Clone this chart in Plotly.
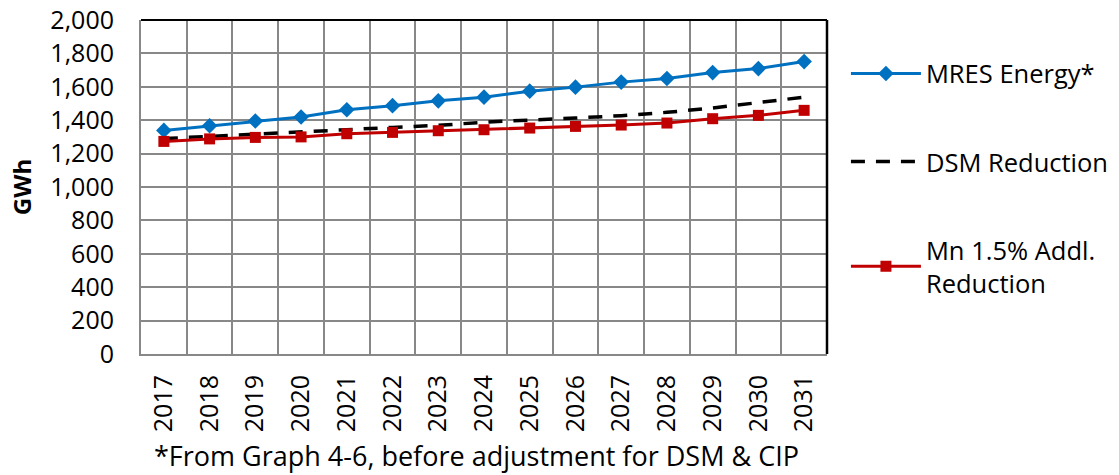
import plotly.graph_objects as go

years = [str(y) for y in range(2017, 2032)]
mres_energy = [1339, 1367, 1395, 1419, 1463, 1487, 1516, 1538, 1574, 1598, 1628, 1650, 1685, 1709, 1751]
dsm_reduction = [1290, 1303, 1313, 1325, 1343, 1357, 1369, 1388, 1403, 1413, 1427, 1447, 1473, 1503, 1538]
mn_addl_reduction = [1273, 1288, 1297, 1300, 1319, 1327, 1337, 1343, 1353, 1363, 1371, 1383, 1409, 1429, 1459]

y_ticks = list(range(0, 2001, 200))
y_tick_text = [f"{v:,}" for v in y_ticks]

FONT = "Open Sans"
GRID = "#888888"

fig = go.Figure()
fig.add_trace(go.Scatter(
    x=years, y=mres_energy, name="MRES Energy*", legendgroup="a",
    mode="lines+markers",
    line=dict(color="#0070C0", width=3),
    marker=dict(symbol="diamond", size=12, color="#0070C0"),
))
fig.add_trace(go.Scatter(
    x=years, y=dsm_reduction, name="DSM Reduction", legendgroup="b",
    mode="lines",
    line=dict(color="black", width=3.5, dash="14px,11px"),
))
fig.add_trace(go.Scatter(
    x=years, y=mn_addl_reduction, name="Mn 1.5% Addl.<br>Reduction", legendgroup="c",
    mode="lines+markers",
    line=dict(color="#C00000", width=3),
    marker=dict(symbol="square", size=11, color="#C00000"),
))

fig.update_layout(
    width=1119, height=475,
    margin=dict(l=141, r=292, t=20, b=121, autoexpand=False),
    paper_bgcolor="white", plot_bgcolor="white",
    font=dict(family=FONT, size=25, color="black"),
    showlegend=True,
    legend=dict(
        x=1.0276, y=0.909, xanchor="left", yanchor="top",
        font=dict(family=FONT, size=25.5),
        tracegroupgap=52, itemwidth=70,
        bgcolor="rgba(0,0,0,0)",
    ),
    xaxis=dict(
        type="category", tickson="boundaries",
        showgrid=True, gridcolor=GRID, gridwidth=2,
        showline=True, linecolor=GRID, linewidth=2,
        ticks="", tickangle=-90, ticklabelstandoff=9,
        tickfont=dict(size=25),
        range=[-0.5, 14.5],
    ),
    yaxis=dict(
        range=[0, 2000], tickvals=y_ticks, ticktext=y_tick_text,
        showgrid=True, gridcolor=GRID, gridwidth=2, zeroline=False,
        showline=True, linecolor=GRID, linewidth=2,
        ticks="", ticklabelstandoff=20,
        tickfont=dict(size=25),
        title=dict(text="<b>GWh</b>", font=dict(size=24), standoff=12),
    ),
    shapes=[
        dict(type="line", xref="x domain", yref="y domain", x0=0, x1=1, y0=1, y1=1,
             line=dict(color="black", width=2)),
        dict(type="line", xref="x domain", yref="y domain", x0=1, x1=1, y0=0, y1=1,
             line=dict(color="black", width=2.5)),
    ],
    annotations=[
        dict(text="*From Graph 4-6, before adjustment for DSM & CIP",
             xref="paper", yref="paper", x=0.489, y=-0.303,
             xanchor="center", yanchor="middle", showarrow=False,
             font=dict(family=FONT, size=27)),
    ],
)

fig.write_html("out.html")
